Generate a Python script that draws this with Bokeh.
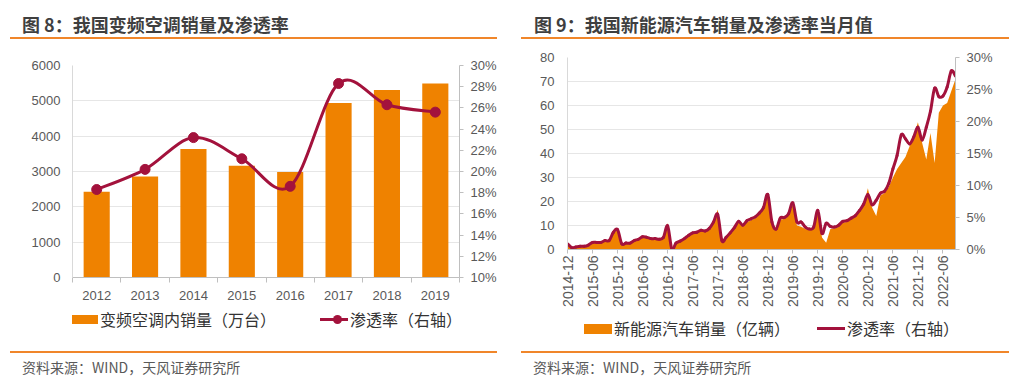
import numpy as np
from bokeh.plotting import figure
from bokeh.models import (ColumnDataSource, Range1d, LinearAxis, FixedTicker,
                          PrintfTickFormatter, Div)
from bokeh.layouts import row, column
from bokeh.embed import file_html
from bokeh.resources import INLINE

# ---------------- chart 1 data ----------------
years = ["2012", "2013", "2014", "2015", "2016", "2017", "2018", "2019"]
ac_sales = [2430, 2855, 3640, 3165, 2985, 4940, 5310, 5490]
ac_rate = [18.3, 20.2, 23.2, 21.2, 18.6, 28.3, 26.3, 25.6]
legend1_labels = ["变频空调内销量（万台）", "渗透率（右轴）"]

# ---------------- chart 2 data ----------------
ev_tick_labels = ["2014-12", "2015-06", "2015-12", "2016-06", "2016-12", "2017-06",
                  "2017-12", "2018-06", "2018-12", "2019-06", "2019-12", "2020-06",
                  "2020-12", "2021-06", "2021-12", "2022-06"]
ev_sales = [2.5, 0.7, 0.9, 1.2, 1.3, 1.7, 2.7, 2.8, 2.8, 3.5, 3.6, 7.0, 8.2,
            2.2, 2.4, 2.5, 3.5, 4.0, 5.0, 4.8, 4.3, 4.2, 4.1, 4.9, 11.0,
            0.5, 2.5, 3.3, 4.3, 5.6, 6.7, 6.9, 7.7, 7.5, 8.5, 11.3, 16.7,
            3.5, 4.8, 6.7, 8.7, 11.5, 9.7, 11.4, 12.2, 13.0, 14.6, 17.0, 23.0,
            10.5, 7.9, 12.5, 12.7, 14.4, 18.6, 10.0, 9.5, 8.5, 8.0, 8.8, 16.5,
            5.0, 2.8, 8.5, 8.7, 9.5, 11.3, 11.5, 12.6, 13.6, 15.8, 18.5, 25.5,
            17.5, 14.0, 22.5, 23.5, 26.0, 30.0, 33.5, 36.0, 38.5, 43.0, 47.5, 53.0,
            44.5, 37.5, 48.5, 36.0, 57.0, 60.0, 61.0, 66.0, 71.0]
ev_rate = [0.9, 0.3, 0.4, 0.5, 0.5, 0.7, 1.1, 1.1, 1.1, 1.4, 1.4, 2.7, 3.1,
           0.9, 1.0, 1.0, 1.4, 1.6, 2.0, 1.9, 1.7, 1.7, 1.6, 1.9, 3.7,
           0.1, 1.0, 1.3, 1.7, 2.2, 2.6, 2.7, 3.0, 2.9, 3.3, 4.3, 5.5,
           1.4, 1.9, 2.6, 3.4, 4.4, 3.8, 4.5, 4.8, 5.1, 5.7, 6.6, 8.6,
           4.3, 3.2, 4.9, 5.0, 5.6, 7.3, 4.3, 4.3, 3.5, 3.2, 3.5, 6.1,
           2.5, 4.1, 3.6, 3.5, 3.8, 4.4, 4.5, 4.9, 5.3, 6.1, 7.1, 8.6,
           7.0, 7.7, 8.8, 9.1, 10.3, 12.6, 14.7, 17.9, 17.3, 16.5, 17.6, 19.1,
           17.1, 19.1, 21.6, 25.2, 23.9, 24.0, 25.4, 27.9, 27.1]
legend2_labels = ["新能源汽车销量（亿辆）", "渗透率（右轴）"]

ORANGE = "#EF8200"
RED = "#A3123C"
RULE = "#F0862A"
GRID = "#E6E6E6"
AXIS = "#BFBFBF"
LABEL = "#595959"
NUMFONT = "Liberation Sans"
CJK = "Noto Sans CJK SC"


def smooth_segments(xs, ys):
    """Cubic Bezier segments (Catmull-Rom style smoothing) through the data points."""
    x = np.asarray(xs, float)
    y = np.asarray(ys, float)
    xp = np.concatenate([[x[0]], x, [x[-1]]])
    yp = np.concatenate([[y[0]], y, [y[-1]]])
    d = dict(x0=[], y0=[], x1=[], y1=[], cx0=[], cy0=[], cx1=[], cy1=[])
    for i in range(len(x) - 1):
        p0x, p1x, p2x, p3x = xp[i], xp[i + 1], xp[i + 2], xp[i + 3]
        p0y, p1y, p2y, p3y = yp[i], yp[i + 1], yp[i + 2], yp[i + 3]
        d["x0"].append(p1x); d["y0"].append(p1y)
        d["x1"].append(p2x); d["y1"].append(p2y)
        d["cx0"].append(p1x + (p2x - p0x) / 6.0); d["cy0"].append(p1y + (p2y - p0y) / 6.0)
        d["cx1"].append(p2x - (p3x - p1x) / 6.0); d["cy1"].append(p2y - (p3y - p1y) / 6.0)
    return ColumnDataSource(d)


def style_common(p):
    p.outline_line_color = None
    p.xgrid.visible = False
    p.ygrid.grid_line_color = GRID
    p.ygrid.grid_line_width = 1
    p.background_fill_color = "white"
    p.border_fill_color = "white"


def style_axis(ax, line_color, tick_out=0):
    ax.axis_line_color = line_color
    ax.major_tick_line_color = line_color
    ax.minor_tick_line_color = line_color
    ax.major_tick_out = tick_out
    ax.major_tick_in = 0
    ax.minor_tick_out = 0
    ax.minor_tick_in = 0
    ax.major_label_text_font = NUMFONT
    ax.major_label_text_font_size = "13px"
    ax.major_label_text_color = LABEL


def header(text, left, rule_left, rule_width, width, height=39):
    html = (f'<div style="position:relative;width:{width}px;height:{height}px;">'
            f'<div style="position:absolute;left:{left}px;top:13px;font-family:\'{CJK}\';'
            f'font-weight:bold;font-size:18px;line-height:22px;color:#3F3F3F;white-space:nowrap;">{text}</div>'
            f'<div style="position:absolute;left:{rule_left}px;top:37px;width:{rule_width}px;'
            f'height:2px;background:{RULE};"></div></div>')
    return Div(text=html, width=width, height=height, margin=(0, 0, 0, 0))


def footer(text, left, rule_left, rule_width, width, height=32):
    html = (f'<div style="position:relative;width:{width}px;height:{height}px;">'
            f'<div style="position:absolute;left:{rule_left}px;top:0px;width:{rule_width}px;'
            f'height:1.5px;background:{RULE};"></div>'
            f'<div style="position:absolute;left:{left}px;top:6px;font-family:\'{CJK}\';'
            f'font-size:14px;line-height:20px;color:#595959;white-space:nowrap;">{text}</div></div>')
    return Div(text=html, width=width, height=height, margin=(0, 0, 0, 0))


def box(left, top, w, h, color, radius=0):
    return (f'<div style="position:absolute;left:{left}px;top:{top}px;width:{w}px;height:{h}px;'
            f'background:{color};border-radius:{radius}px;"></div>')


def label(left, top, text):
    return (f'<div style="position:absolute;left:{left}px;top:{top}px;font-family:\'{CJK}\';'
            f'font-size:16px;line-height:20px;color:#333333;white-space:nowrap;">{text}</div>')


def legend_div(width, height, parts):
    html = f'<div style="position:relative;width:{width}px;height:{height}px;">' + "".join(parts) + '</div>'
    return Div(text=html, width=width, height=height, margin=(0, 0, 0, 0))


# ================= chart 1 =================
p1 = figure(width=512, height=266, output_backend="svg", toolbar_location=None,
            x_range=Range1d(-0.5, len(years) - 0.5), y_range=Range1d(0, 6000),
            min_border_left=72, min_border_right=53, min_border_top=26, min_border_bottom=28)
style_common(p1)
p1.extra_y_ranges = {"rate": Range1d(10, 30)}

xi = list(range(len(years)))
p1.vbar(x=xi, top=ac_sales, width=0.54, fill_color=ORANGE, line_color=None)
seg1 = smooth_segments(xi, ac_rate)
p1.bezier(x0="x0", y0="y0", x1="x1", y1="y1", cx0="cx0", cy0="cy0", cx1="cx1", cy1="cy1",
          source=seg1, line_color=RED, line_width=3, line_cap="round", y_range_name="rate")
p1.scatter(x=xi, y=ac_rate, size=10, fill_color=RED, line_color=RED, y_range_name="rate")

p1.xaxis.ticker = FixedTicker(ticks=xi, minor_ticks=[i - 0.5 for i in range(len(years) + 1)])
p1.xaxis.major_label_overrides = {i: years[i] for i in xi}
style_axis(p1.xaxis[0], AXIS)
p1.xaxis.minor_tick_out = 5
p1.xaxis.major_label_standoff = 8

p1.yaxis.ticker = FixedTicker(ticks=[0, 1000, 2000, 3000, 4000, 5000, 6000])
style_axis(p1.yaxis[0], "#D9D9D9")
p1.yaxis.major_label_standoff = 12

r1 = LinearAxis(y_range_name="rate", ticker=FixedTicker(ticks=list(range(10, 31, 2))),
                formatter=PrintfTickFormatter(format="%d%%"))
style_axis(r1, AXIS, tick_out=4)
r1.major_label_standoff = 7
p1.add_layout(r1, "right")

leg1 = legend_div(512, 46, [
    box(72, 10, 26, 9, ORANGE), label(100, 4, legend1_labels[0]),
    box(320, 13, 28, 3, RED), box(333, 10, 9, 9, RED, 5), label(350, 4, legend1_labels[1]),
])

# ================= chart 2 =================
n = len(ev_sales)
idx = list(range(n))
p2 = figure(width=511, height=273, output_backend="svg", toolbar_location=None,
            x_range=Range1d(0, n - 1), y_range=Range1d(0, 80),
            min_border_left=55, min_border_right=68, min_border_top=18, min_border_bottom=63)
style_common(p2)
p2.extra_y_ranges = {"rate": Range1d(0, 30)}

p2.varea(x=idx, y1=0, y2=ev_sales, fill_color=ORANGE)
seg2 = smooth_segments(idx, ev_rate)
p2.bezier(x0="x0", y0="y0", x1="x1", y1="y1", cx0="cx0", cy0="cy0", cx1="cx1", cy1="cy1",
          source=seg2, line_color=RED, line_width=3, line_cap="round", y_range_name="rate")

tick_pos = [6 * k for k in range(len(ev_tick_labels))]
p2.xaxis.ticker = FixedTicker(ticks=tick_pos)
p2.xaxis.major_label_overrides = {t: lab for t, lab in zip(tick_pos, ev_tick_labels)}
style_axis(p2.xaxis[0], AXIS, tick_out=4)
p2.xaxis.major_label_orientation = np.pi / 2
p2.xaxis.major_label_standoff = 2
p2.xaxis.major_label_text_font_size = "14px"

p2.yaxis.ticker = FixedTicker(ticks=list(range(0, 81, 10)))
style_axis(p2.yaxis[0], "#D9D9D9")
p2.yaxis.major_label_standoff = 13

r2 = LinearAxis(y_range_name="rate", ticker=FixedTicker(ticks=[0, 5, 10, 15, 20, 25, 30]),
                formatter=PrintfTickFormatter(format="%d%%"))
style_axis(r2, AXIS, tick_out=4)
r2.major_label_standoff = 7
p2.add_layout(r2, "right")

leg2 = legend_div(511, 39, [
    box(72, 12, 28, 10, ORANGE), label(102, 6, legend2_labels[0]),
    box(305, 15, 28, 3, RED), label(335, 6, legend2_labels[1]),
])

# ================= page =================
left_col = column(header("图 8：我国变频空调销量及渗透率", 22, 10, 487, 512), p1, leg1,
                  footer("资料来源：WIND，天风证券研究所", 22, 10, 487, 512), spacing=0)
right_col = column(header("图 9：我国新能源汽车销量及渗透率当月值", 22, 9, 488, 511), p2, leg2,
                   footer("资料来源：WIND，天风证券研究所", 21, 9, 488, 511), spacing=0)
page = row(left_col, right_col, spacing=0)

open("out.html", "w").write(file_html(page, INLINE))
